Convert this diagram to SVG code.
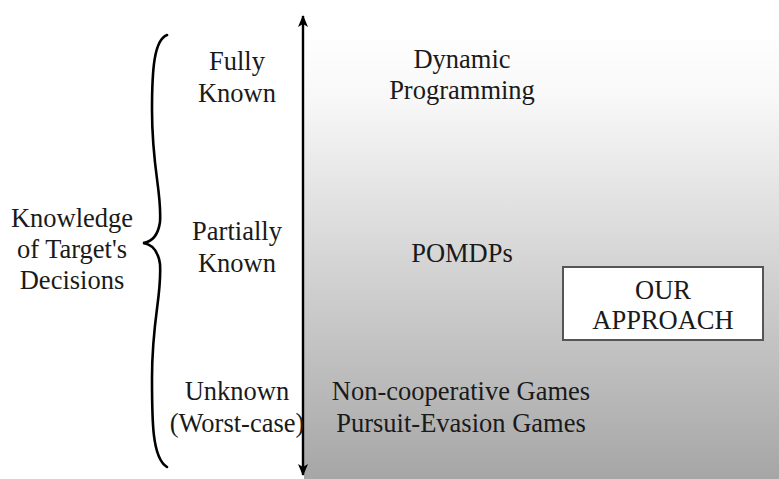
<svg xmlns="http://www.w3.org/2000/svg" width="779" height="479" viewBox="0 0 779 479">
<defs>
<linearGradient id="bg" x1="0" y1="0" x2="0" y2="1">
<stop offset="0" stop-color="#ffffff"/>
<stop offset="0.15" stop-color="#f8f8f8"/>
<stop offset="1" stop-color="#a6a6a6"/>
</linearGradient>
<marker id="ah" viewBox="0 0 12 10" refX="11" refY="5" markerWidth="12" markerHeight="10" markerUnits="userSpaceOnUse" orient="auto-start-reverse">
<path d="M0,0 L12,5 L0,10 L3,5 Z" fill="#000"/>
</marker>
<style>
text{font-family:"Liberation Serif","Times New Roman",serif;font-size:26.5px;fill:#1a1a1a;text-anchor:middle}
.conn{stroke:#000;stroke-width:2.4;fill:none}
.brace{stroke:#000;stroke-width:2.6;fill:none;stroke-linecap:round}
.box{fill:#fff;stroke:#555;stroke-width:2}
</style>
</defs>
<rect x="304" y="30" width="475" height="449" fill="url(#bg)"/>
<g id="connectors">
<line class="conn" x1="303" y1="16" x2="303" y2="475" marker-start="url(#ah)" marker-end="url(#ah)"/>
</g>
<g id="brace">
<path class="brace" d="M167,35 C154,40 152,70 152,110 C152,170 162,192 160,222 C158,236 151,242 143,243 C151,244 158,250 160,264 C162,296 152,318 152,378 C152,420 152,458 167,467"/>
</g>
<g id="knowledge">
<text x="72" y="227">Knowledge</text>
<text x="72" y="258">of Target's</text>
<text x="72" y="289">Decisions</text>
</g>
<g id="fully-known">
<text x="237" y="70">Fully</text>
<text x="237" y="102">Known</text>
</g>
<g id="partially-known">
<text x="237" y="240">Partially</text>
<text x="237" y="272">Known</text>
</g>
<g id="unknown">
<text x="237" y="400">Unknown</text>
<text x="237" y="432">(Worst-case)</text>
</g>
<g id="dynamic-programming">
<text x="462" y="68">Dynamic</text>
<text x="462" y="99">Programming</text>
</g>
<g id="pomdps">
<text x="462" y="262">POMDPs</text>
</g>
<g id="games">
<text x="461" y="400">Non-cooperative Games</text>
<text x="461" y="432">Pursuit-Evasion Games</text>
</g>
<g id="our-approach">
<rect class="box" x="563" y="267" width="200" height="73"/>
<text x="663" y="299">OUR</text>
<text x="663" y="329">APPROACH</text>
</g>
</svg>
